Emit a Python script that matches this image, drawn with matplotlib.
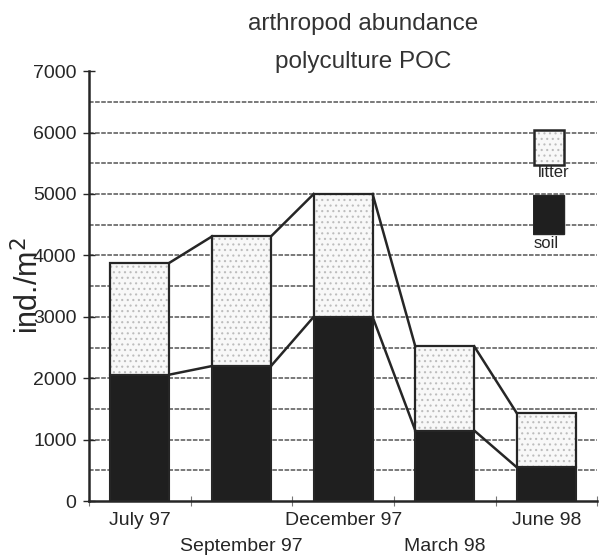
import matplotlib.pyplot as plt
import numpy as np

plt.rcParams['font.family'] = ['Liberation Sans', 'DejaVu Sans']
plt.rcParams['hatch.linewidth'] = 0.8

months = ["July 97", "September 97", "December 97", "March 98", "June 98"]
soil = [2060, 2200, 3000, 1150, 550]
litter = [1820, 2110, 2000, 1370, 880]

ink = "#262626"
soil_col = "#1f1f1f"
litter_col = "#f8f8f8"
x = np.arange(len(months))
width = 0.58
total = np.array(soil) + np.array(litter)

fig = plt.figure(figsize=(6.02, 5.60), dpi=100)
ax = fig.add_axes([0.148, 0.105, 0.844, 0.768])

# dashed grid every 500
for v in np.arange(500, 7000, 500):
    ax.axhline(v, color="#555555", lw=1.1, ls=(0, (3, 1)), zorder=0)

ax.bar(x, soil, width, color=soil_col, edgecolor=ink, lw=1.5, zorder=3)
# litter: faint stipple first, then the outline on top
ax.bar(x, litter, width, bottom=soil, color=litter_col, edgecolor="#bdbdbd",
       lw=0, hatch="...", zorder=3)
ax.bar(x, litter, width, bottom=soil, color="none", edgecolor=ink, lw=1.6,
       zorder=3.5)

# series lines joining the bar tops
for i in range(len(months) - 1):
    for top in (total, soil):
        ax.plot([x[i] + width / 2, x[i + 1] - width / 2], [top[i], top[i + 1]],
                color=ink, lw=1.8, zorder=4)

ax.set_xlim(-0.5, len(months) - 0.5)
ax.set_ylim(0, 7000)
ax.set_yticks(range(0, 7001, 1000))
ax.tick_params(axis="y", direction="inout", length=8, width=1, colors=ink,
               labelsize=14, pad=5)
ax.set_xticks(np.arange(-0.5, len(months) + 0.5, 1))
ax.set_xticklabels([])
ax.tick_params(axis="x", direction="inout", length=7, width=0.8, colors="#777777")
for s in ("top", "right"):
    ax.spines[s].set_visible(False)
for s in ("left", "bottom"):
    ax.spines[s].set_linewidth(1.8)
    ax.spines[s].set_color(ink)

# staggered month labels
for i, m in enumerate(months):
    yoff = -0.045 if i % 2 == 0 else -0.105
    ax.text(x[i], yoff, m, transform=ax.get_xaxis_transform(), ha="center",
            va="center", fontsize=14, color=ink)

fig.text(0.048, 0.49, "ind./m$^2$", rotation=90, ha="center", va="center",
         fontsize=22, color=ink)
fig.text(0.603, 0.957, "arthropod abundance", ha="center", va="center",
         fontsize=17.5, color="#333333")
fig.text(0.603, 0.889, "polyculture POC", ha="center", va="center",
         fontsize=17.5, color="#333333")

# legend boxes
lax = fig.add_axes([0.885, 0.57, 0.055, 0.2])
lax.set_xlim(0, 1)
lax.set_ylim(0, 1)
lax.axis("off")
lax.add_patch(plt.Rectangle((0.05, 0.68), 0.9, 0.31, facecolor=litter_col,
                            edgecolor="#bdbdbd", lw=0, hatch="..."))
lax.add_patch(plt.Rectangle((0.05, 0.68), 0.9, 0.31, facecolor="none",
                            edgecolor=ink, lw=1.8))
lax.add_patch(plt.Rectangle((0.0, 0.06), 0.95, 0.35, facecolor=soil_col,
                            edgecolor=ink, lw=1))
fig.text(0.92, 0.692, "litter", ha="center", va="center", fontsize=12, color=ink)
fig.text(0.908, 0.566, "soil", ha="center", va="center", fontsize=12, color=ink)

fig.savefig("out.png", dpi=100)
